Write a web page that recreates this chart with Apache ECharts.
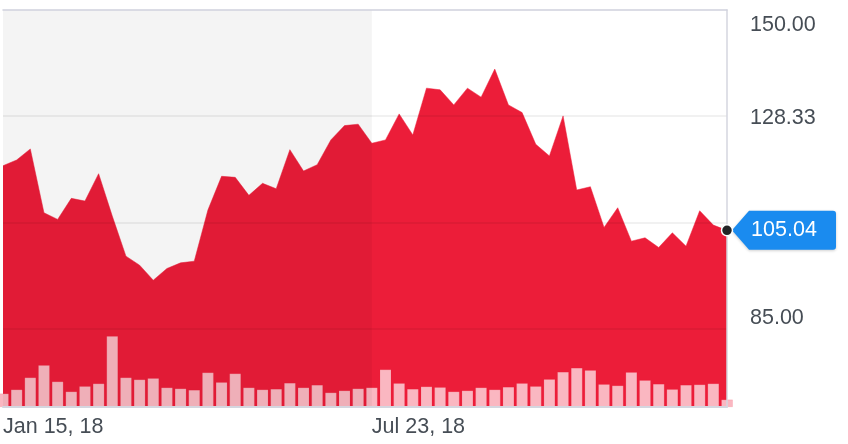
<!DOCTYPE html>
<html>
<head>
<meta charset="utf-8">
<script src="https://cdn.jsdelivr.net/npm/echarts@6/dist/echarts.min.js"></script>
<style>
  html, body { margin: 0; padding: 0; background: #ffffff; }
  #chart { width: 848px; height: 444px; }
</style>
</head>
<body>
<div id="chart"></div>
<script>
// ---- data ----
const categories = [
  'Jan 15, 18','Jan 22, 18','Jan 29, 18','Feb 5, 18','Feb 12, 18','Feb 19, 18','Feb 26, 18',
  'Mar 5, 18','Mar 12, 18','Mar 19, 18','Mar 26, 18','Apr 2, 18','Apr 9, 18','Apr 16, 18',
  'Apr 23, 18','Apr 30, 18','May 7, 18','May 14, 18','May 21, 18','May 28, 18','Jun 4, 18',
  'Jun 11, 18','Jun 18, 18','Jun 25, 18','Jul 2, 18','Jul 9, 18','Jul 16, 18','Jul 23, 18',
  'Jul 30, 18','Aug 6, 18','Aug 13, 18','Aug 20, 18','Aug 27, 18','Sep 3, 18','Sep 10, 18',
  'Sep 17, 18','Sep 24, 18','Oct 1, 18','Oct 8, 18','Oct 15, 18','Oct 22, 18','Oct 29, 18',
  'Nov 5, 18','Nov 12, 18','Nov 19, 18','Nov 26, 18','Dec 3, 18','Dec 10, 18','Dec 17, 18',
  'Dec 24, 18','Dec 31, 18','Jan 7, 19','Jan 14, 19','Jan 21, 19'
];
const prices = [
  118.23,119.40,121.65,108.63,107.28,111.57,111.02,116.60,107.95,99.78,
  97.94,94.87,97.26,98.41,98.75,109.18,116.07,115.86,112.18,114.64,
  113.53,121.50,117.15,118.44,123.49,126.41,126.70,122.81,123.49,128.80,
  124.51,134.06,133.71,130.64,134.06,132.22,137.94,130.64,129.07,122.61,
  120.22,128.39,113.27,113.94,105.64,109.65,102.84,103.52,101.55,104.54,
  101.82,109.04,106.11,105.04
];
const volumes = [
  13.4,17.4,29.4,41.7,25.4,15.4,20.7,23.4,70.7,29.4,
  27.4,28.7,19.4,18.4,17.0,34.4,24.7,33.4,19.4,17.4,
  18.0,24.0,19.4,22.0,14.4,16.4,18.4,19.4,37.4,23.7,
  18.0,20.4,19.7,15.4,16.4,19.4,17.4,20.0,23.7,20.7,
  27.7,35.0,39.0,36.7,22.7,21.4,34.7,26.7,23.0,17.7,
  22.0,22.4,23.4,7.4
];
const priceLabelValues = [85, 128.33, 150];
const gridValues = [85, 106.67, 128.33];
const xTickLabels = ['Jan 15, 18', 'Jul 23, 18'];
const shadeRange = ['Jan 15, 18', 'Jul 23, 18'];
const lastPrice = 105.04;
const priceMin = 69, priceMax = 150;
const volumeMax = 396;

// ---- chart ----
const FONT = "'Liberation Sans', Arial, Helvetica, sans-serif";
const TXT = '#464d55';
const RED = '#ec1d39';
const chart = echarts.init(document.getElementById('chart'), null, { renderer: 'canvas' });

const lastCat = categories[categories.length - 1];

chart.setOption({
  animation: false,
  backgroundColor: '#ffffff',
  textStyle: { fontFamily: FONT },
  grid: { left: 2, right: 121, top: 10, bottom: 37, containLabel: false },
  xAxis: [
    {
      type: 'category', data: categories, boundaryGap: false, position: 'bottom', z: 10,
      axisLine: { show: true, lineStyle: { color: '#d4d6df', width: 2 } },
      axisTick: { show: false },
      splitLine: { show: false },
      axisLabel: {
        interval: (idx, val) => xTickLabels.includes(val),
        align: 'left', margin: 9, color: TXT, fontSize: 21.5, fontFamily: FONT
      }
    },
    {
      type: 'category', data: categories, boundaryGap: false, position: 'top', z: 10,
      axisLine: { show: true, lineStyle: { color: '#d0d1dd', width: 1.5 } },
      axisTick: { show: false }, axisLabel: { show: false }, splitLine: { show: false }
    }
  ],
  yAxis: [
    {
      type: 'value', position: 'right', min: priceMin, max: priceMax, z: 10,
      axisLine: { show: true, lineStyle: { color: '#d4d6df', width: 1.5 } },
      axisTick: { show: false, customValues: priceLabelValues },
      splitLine: { show: false },
      axisLabel: {
        customValues: priceLabelValues,
        showMaxLabel: true, showMinLabel: true,
        margin: 23, align: 'left', verticalAlign: 'middle',
        color: TXT, fontSize: 21.5, fontFamily: FONT,
        formatter: (v) => {
          const s = v.toFixed(2);
          if (v === priceMax) return '{top|' + s + '}';
          if (v === priceLabelValues[0]) return '{low|' + s + '}';
          return '{mid|' + s + '}';
        },
        rich: {
          top: { padding: [30, 0, 0, 0], color: TXT, fontSize: 21.5, fontFamily: FONT },
          mid: { padding: [4, 0, 0, 0], color: TXT, fontSize: 21.5, fontFamily: FONT },
          low: { padding: [0, 0, 21, 0], color: TXT, fontSize: 21.5, fontFamily: FONT }
        }
      }
    },
    {
      type: 'value', min: 0, max: volumeMax, show: false,
      splitLine: { show: false }
    }
  ],
  series: [
    {
      name: 'Price', type: 'line', data: prices, xAxisIndex: 0, yAxisIndex: 0,
      showSymbol: false, symbol: 'none', clip: false, z: 2,
      lineStyle: { color: RED, width: 0.5 },
      areaStyle: { color: RED, opacity: 1, origin: 'start' },
      markLine: {
        silent: true, z: 5, symbol: ['none', 'none'],
        label: { show: false },
        lineStyle: { color: 'rgba(0,0,0,0.075)', width: 1.5, type: 'solid' },
        data: gridValues.map(v => ({ yAxis: v }))
      },
      markArea: {
        silent: true, z: 6,
        itemStyle: { color: 'rgba(0,0,0,0.044)' },
        data: [[{ xAxis: shadeRange[0] }, { xAxis: shadeRange[1] }]]
      },
      markPoint: {
        silent: true, z: 12,
        data: [
          {
            coord: [lastCat, lastPrice],
            symbol: 'path://M0,19.5 L17,0 L101,0 Q104,0 104,3 L104,36 Q104,39 101,39 L17,39 Z',
            symbolSize: [104, 39], symbolOffset: [57, 0], symbolKeepAspect: false,
            itemStyle: { color: '#1a8bef', shadowColor: 'rgba(0,0,0,0.2)', shadowBlur: 3, shadowOffsetY: 1 },
            label: {
              show: true, position: 'inside', formatter: lastPrice.toFixed(2),
              color: '#ffffff', fontSize: 21.5, fontFamily: FONT, offset: [0, 0]
            }
          },
          {
            coord: [lastCat, lastPrice],
            symbol: 'circle', symbolSize: 11,
            itemStyle: { color: '#222426', borderColor: '#ffffff', borderWidth: 1.5 },
            label: { show: false }
          }
        ]
      }
    },
    {
      name: 'Volume', type: 'bar', data: volumes, xAxisIndex: 0, yAxisIndex: 1,
      barWidth: 11.5, z: 3,
      itemStyle: { color: '#fab7c1', borderColor: 'rgba(236,29,57,0.25)', borderWidth: 0.5 }
    }
  ]
});
</script>
</body>
</html>
